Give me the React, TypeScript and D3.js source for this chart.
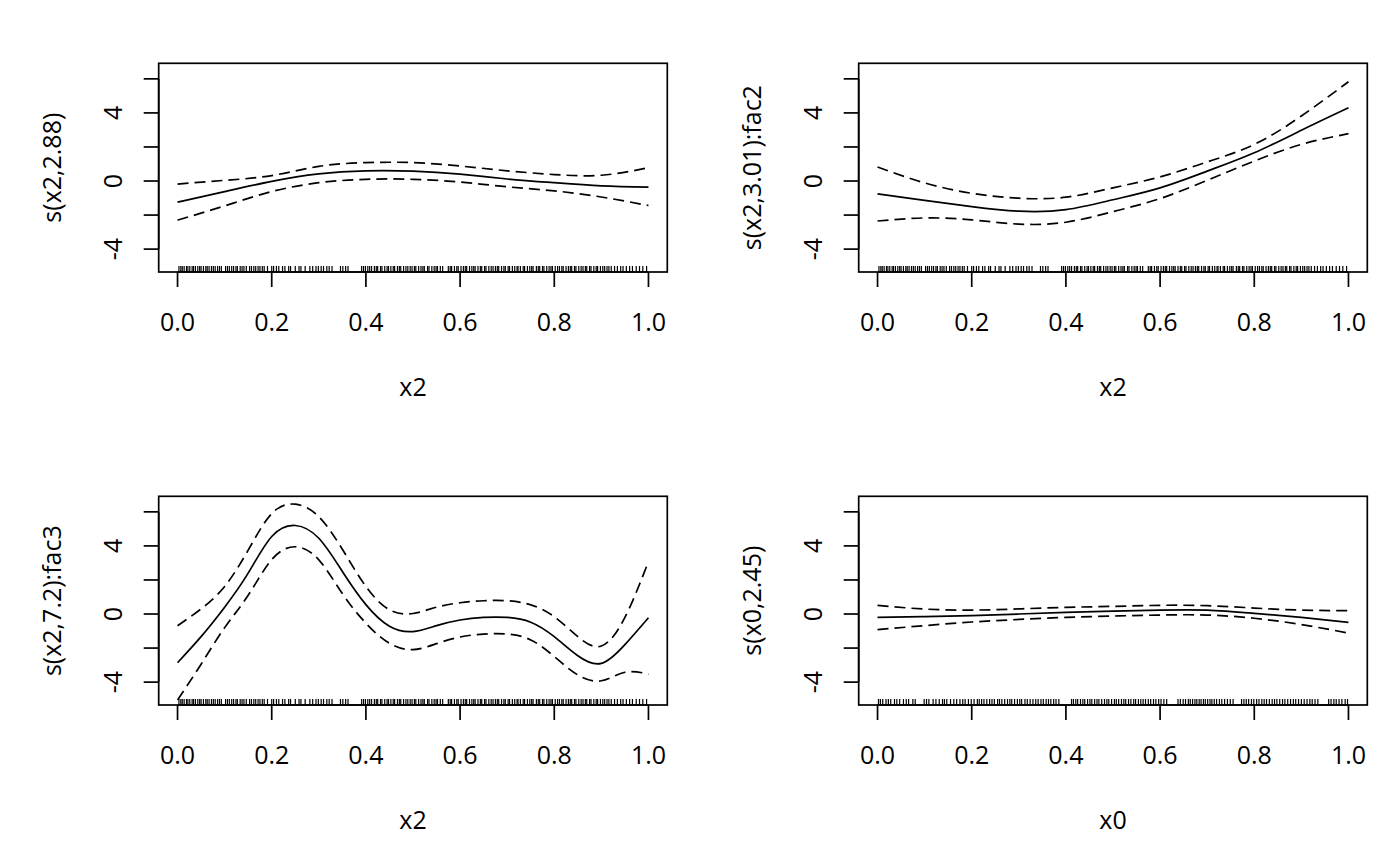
import * as d3 from 'd3';

// smooth term plots (mgcv style), 2 x 2 panels
const yLabels = ['s(x2,2.88)', 's(x2,3.01):fac2', 's(x2,7.2):fac3', 's(x0,2.45)'];
const xLabels = ['x2', 'x2', 'x2', 'x0'];

const xTicks = [0, 0.2, 0.4, 0.6, 0.8, 1];
const yTicks = [-4, -2, 0, 2, 4, 6];
const yTickLabels = [-4, 0, 4];
const yLim = [-4.89, 6.46];

const grid10 = [0, 0.1, 0.2, 0.3, 0.4, 0.5, 0.6, 0.7, 0.8, 0.9, 1];
const grid20 = [0, 0.05, 0.1, 0.15, 0.2, 0.25, 0.3, 0.35, 0.4, 0.45, 0.5, 0.55, 0.6, 0.65, 0.7, 0.75, 0.8, 0.85, 0.9, 0.95, 1];

const fit1 = [-1.24, -0.62, -0.02, 0.42, 0.6, 0.58, 0.4, 0.12, -0.1, -0.28, -0.36];
const up1 = [-0.18, 0.04, 0.32, 0.86, 1.08, 1.08, 0.88, 0.6, 0.38, 0.34, 0.78];
const lo1 = [-2.3, -1.46, -0.62, -0.1, 0.1, 0.1, -0.06, -0.34, -0.58, -0.94, -1.44];

const fit2 = [-0.76, -1.14, -1.5, -1.77, -1.68, -1.1, -0.4, 0.58, 1.66, 2.98, 4.3];
const up2 = [0.82, -0.11, -0.72, -1.01, -0.95, -0.4, 0.24, 1.12, 2.15, 3.82, 5.83];
const lo2 = [-2.35, -2.17, -2.28, -2.53, -2.42, -1.8, -1.03, 0.04, 1.17, 2.15, 2.78];

const fit3 = [-2.86, -1.33, 0.4, 2.4, 4.55, 5.2, 4.45, 2.5, 0.55, -0.72, -1.03, -0.68, -0.35, -0.2, -0.2, -0.48, -1.33, -2.45, -2.9, -1.8, -0.22];
const up3 = [-0.69, 0.3, 1.62, 3.75, 5.9, 6.45, 5.72, 3.8, 1.62, 0.25, 0.03, 0.4, 0.66, 0.78, 0.78, 0.54, -0.16, -1.33, -1.88, -0.2, 3.08];
const lo3 = [-5.05, -2.95, -0.8, 1.1, 3.2, 3.95, 3.18, 1.2, -0.54, -1.72, -2.09, -1.74, -1.35, -1.18, -1.18, -1.52, -2.5, -3.58, -3.92, -3.42, -3.53];

const fit4 = [-0.2, -0.15, -0.1, 0, 0.1, 0.17, 0.23, 0.23, 0.04, -0.2, -0.49];
const up4 = [0.51, 0.29, 0.23, 0.3, 0.39, 0.45, 0.51, 0.49, 0.35, 0.23, 0.2];
const lo4 = [-0.92, -0.68, -0.47, -0.32, -0.2, -0.12, -0.06, -0.06, -0.25, -0.62, -1.12];

// rug positions
const rugX2 = [
  0.003, 0.007, 0.01, 0.014, 0.019, 0.022, 0.026, 0.031, 0.034, 0.038, 0.043, 0.047, 0.05, 0.055, 0.06, 0.063, 0.067, 0.072, 0.076, 0.08, 0.085, 0.089, 0.093,
  0.102, 0.106, 0.11, 0.115, 0.119, 0.124, 0.127, 0.133, 0.137, 0.141, 0.146,
  0.153, 0.157, 0.162, 0.166, 0.171, 0.175, 0.18, 0.184, 0.191,
  0.2, 0.204, 0.21, 0.215, 0.223, 0.228, 0.236, 0.24, 0.25, 0.258, 0.262, 0.271, 0.281, 0.287, 0.294, 0.299, 0.305, 0.31, 0.317, 0.322, 0.328,
  0.346, 0.351, 0.357, 0.362,
  0.391, 0.395, 0.399, 0.404, 0.408, 0.412, 0.418, 0.422, 0.425, 0.431, 0.434, 0.44, 0.445, 0.448, 0.453, 0.458, 0.461, 0.467, 0.471, 0.474, 0.48, 0.485, 0.489,
  0.494, 0.498, 0.503, 0.506, 0.512, 0.517, 0.521, 0.524, 0.531, 0.534, 0.54, 0.545, 0.549, 0.552, 0.558, 0.563,
  0.575, 0.579, 0.582, 0.588, 0.593, 0.596, 0.602, 0.607, 0.611, 0.614, 0.62, 0.625, 0.629, 0.632, 0.638, 0.643, 0.646, 0.652, 0.655, 0.661, 0.666, 0.67,
  0.675, 0.679, 0.682, 0.688, 0.693, 0.696, 0.702, 0.705, 0.711, 0.716, 0.721, 0.723, 0.728, 0.734, 0.737, 0.743, 0.748, 0.752, 0.755, 0.762, 0.766, 0.769,
  0.775, 0.778, 0.784, 0.789, 0.793, 0.796, 0.802, 0.807, 0.811, 0.816, 0.819, 0.825, 0.83, 0.834, 0.837, 0.843, 0.846, 0.852, 0.857, 0.861, 0.866, 0.869,
  0.875, 0.878, 0.884, 0.889, 0.892, 0.898, 0.903, 0.907, 0.912, 0.916, 0.921, 0.928, 0.934, 0.941, 0.946, 0.953, 0.96, 0.966, 0.974, 0.981, 0.988, 0.996
];

const rugX0 = [
  0.002, 0.006, 0.011, 0.018, 0.023, 0.028, 0.036, 0.041, 0.047, 0.055, 0.061, 0.066, 0.075, 0.08, 0.099, 0.104, 0.109, 0.118, 0.124,
  0.131, 0.138, 0.142, 0.147, 0.155, 0.162, 0.168, 0.175, 0.181, 0.186, 0.193, 0.199, 0.205, 0.212, 0.216, 0.221, 0.226, 0.232,
  0.238, 0.243, 0.248, 0.255, 0.259, 0.264, 0.27, 0.276, 0.281, 0.285, 0.291, 0.297, 0.302, 0.306, 0.313, 0.318, 0.324, 0.33,
  0.336, 0.341, 0.347, 0.352, 0.358, 0.363, 0.368, 0.374, 0.379, 0.385,
  0.412, 0.416, 0.421, 0.425, 0.431, 0.436, 0.44, 0.446, 0.451, 0.455, 0.461, 0.466, 0.47, 0.476, 0.482, 0.487, 0.491, 0.497, 0.503, 0.507,
  0.512, 0.518, 0.523, 0.527, 0.533, 0.538, 0.544, 0.548, 0.554, 0.559, 0.564, 0.569, 0.575, 0.58, 0.586, 0.591, 0.597, 0.602, 0.608, 0.614,
  0.638, 0.643, 0.649, 0.654, 0.66, 0.664, 0.669, 0.674, 0.678, 0.683, 0.687, 0.692, 0.696, 0.701, 0.706, 0.71, 0.715, 0.72, 0.726, 0.731, 0.737, 0.743, 0.749, 0.755,
  0.773, 0.778, 0.783, 0.788, 0.794, 0.799, 0.805, 0.81, 0.816, 0.821, 0.826, 0.832, 0.838, 0.843, 0.848, 0.854, 0.86, 0.865, 0.871, 0.877, 0.883, 0.888, 0.894,
  0.9, 0.906, 0.912, 0.918, 0.923, 0.929, 0.935,
  0.958, 0.963, 0.969, 0.974, 0.98, 0.986, 0.993, 0.998
];

const panels = [
  { xs: grid10, fit: fit1, up: up1, lo: lo1, rug: rugX2 },
  { xs: grid10, fit: fit2, up: up2, lo: lo2, rug: rugX2 },
  { xs: grid20, fit: fit3, up: up3, lo: lo3, rug: rugX2 },
  { xs: grid10, fit: fit4, up: up4, lo: lo4, rug: rugX0 },
];

const W = 1400;
const H = 866;
const FONT = '"Open Sans", "Noto Sans", sans-serif';
const FS = 25;
const LW = 1.7;

function Panel({ idx }: { idx: number }) {
  const p = panels[idx];
  const col = idx % 2;
  const row = Math.floor(idx / 2);
  const left = 158.7 + col * 700;
  const top = 63.3 + row * 433;
  const w = 508.6;
  const h = 208.7;

  // R style 4% axis expansion
  const x = d3.scaleLinear().domain([-0.04, 1.04]).range([left, left + w]);
  const ext = (yLim[1] - yLim[0]) * 0.04;
  const y = d3.scaleLinear().domain([yLim[0] - ext, yLim[1] + ext]).range([top + h, top]);

  const line = d3.line<number>()
    .x((_, i) => x(p.xs[i]))
    .y(d => y(d))
    .curve(d3.curveNatural);

  const clipId = `clip${idx}`;
  const bottom = top + h;

  return (
    <g>
      <defs>
        <clipPath id={clipId}>
          <rect x={left} y={top} width={w} height={h} />
        </clipPath>
      </defs>
      <g clipPath={`url(#${clipId})`} fill="none" stroke="#000">
        <path d={line(p.fit) || ''} strokeWidth={LW} />
        <path d={line(p.up) || ''} strokeWidth={LW} strokeDasharray="11,6" />
        <path d={line(p.lo) || ''} strokeWidth={LW} strokeDasharray="11,6" />
      </g>
      {/* rug */}
      <g stroke="#000" strokeWidth={1.2}>
        {p.rug.map((v, i) => (
          <line key={i} x1={x(v)} x2={x(v)} y1={bottom} y2={bottom - 6} />
        ))}
      </g>
      <rect x={left} y={top} width={w} height={h} fill="none" stroke="#000" strokeWidth={LW} />
      {/* x axis */}
      <g stroke="#000" strokeWidth={LW}>
        <line x1={x(0)} x2={x(1)} y1={bottom} y2={bottom} />
        {xTicks.map(t => (
          <line key={t} x1={x(t)} x2={x(t)} y1={bottom} y2={bottom + 15} />
        ))}
      </g>
      {xTicks.map(t => (
        <text key={t} x={x(t)} y={bottom + 59} textAnchor="middle" fontFamily={FONT} fontSize={FS}>
          {d3.format('.1f')(t)}
        </text>
      ))}
      <text x={left + w / 2} y={bottom + 124} textAnchor="middle" fontFamily={FONT} fontSize={FS}>
        {xLabels[idx]}
      </text>
      {/* y axis */}
      <g stroke="#000" strokeWidth={LW}>
        <line x1={left} x2={left} y1={y(yTicks[0])} y2={y(yTicks[yTicks.length - 1])} />
        {yTicks.map(t => (
          <line key={t} x1={left - 15} x2={left} y1={y(t)} y2={y(t)} />
        ))}
      </g>
      {yTickLabels.map(t => (
        <text key={t} transform={`translate(${left - 37.2},${y(t)}) rotate(-90)`} textAnchor="middle" fontFamily={FONT} fontSize={FS}>
          {t}
        </text>
      ))}
      <text transform={`translate(${left - 98.2},${top + h / 2}) rotate(-90)`} textAnchor="middle" fontFamily={FONT} fontSize={FS}>
        {yLabels[idx]}
      </text>
    </g>
  );
}

export default function App() {
  return (
    <svg
      width={W}
      height={H}
      viewBox={`0 0 ${W} ${H}`}
      style={{ position: 'absolute', left: 0, top: 0, background: '#fff', display: 'block' }}
    >
      <rect width={W} height={H} fill="#fff" />
      {panels.map((_, i) => <Panel key={i} idx={i} />)}
    </svg>
  );
}
